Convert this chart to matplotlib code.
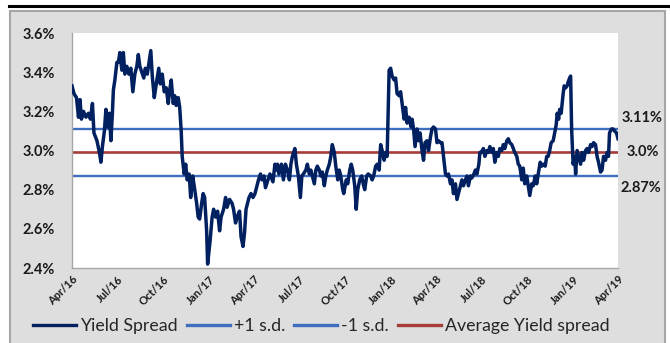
import numpy as np
import pandas as pd
import matplotlib
matplotlib.use("Agg")
from matplotlib import pyplot as plt
import matplotlib.dates as mdates
from matplotlib.patches import Rectangle
from matplotlib.lines import Line2D

plt.rcParams['font.family'] = ['Lato', 'DejaVu Sans']

# data: days since 1 Apr 2016, spread in %
start = pd.Timestamp('2016-04-01')
spread_days = [
    0, 4, 9, 13, 16, 19, 23, 28, 33, 37, 41, 44, 50, 55, 58, 61, 65, 68, 72, 75,
    78, 81, 83, 86, 90, 93, 96, 100, 103, 106, 110, 114, 118, 122, 126, 130, 133,
    136, 140, 144, 147, 151, 155, 158, 161, 165, 169, 174, 177, 181, 185, 189, 193,
    196, 199, 203, 206, 209, 213, 216, 219, 221, 225, 228, 231, 235, 238, 242, 245,
    250, 253, 256, 260, 263, 266, 270, 272,
    277, 281, 284, 288, 292, 296, 299, 304, 308, 311, 316, 321, 324, 328, 331, 336,
    339, 343, 346, 349, 355, 359, 363, 367, 371, 374, 378, 381, 385, 388, 393, 397,
    403, 407,
    409, 412, 415, 420, 424, 428, 432, 436, 439, 442, 447, 450, 454, 458, 461, 464,
    469, 472, 476, 479, 482, 486, 489, 492, 496, 499, 502, 506, 509, 512, 516, 519,
    522, 526, 529, 533, 536, 539, 543,
    545, 550, 553, 557, 560, 563, 567, 570, 573, 577, 581, 584, 587, 591, 594, 599,
    602, 605, 609, 612, 616, 619, 622, 626, 629, 632, 636, 639, 642, 646, 649, 652,
    656, 659, 662, 666, 669, 672, 676, 680,
    682, 685, 688, 692, 695, 698, 702, 705, 708, 712, 715, 719, 722, 725, 729, 732,
    735, 739, 742, 745, 749, 752, 755, 759, 762, 765, 769, 772, 775, 779, 782, 785,
    789, 792, 795, 799, 802, 806, 809, 812, 816, 818,
    821, 825, 828, 832, 835, 838, 842, 845, 848, 852, 855, 858, 862, 865, 868, 872,
    875, 878, 882, 885, 888, 892, 895, 898, 902, 905, 908, 912, 915, 918, 922, 925,
    929, 932, 935, 939, 942, 945, 949, 952,
    955, 958, 961, 965, 968, 971, 973, 976, 978, 981, 985, 987, 990, 993, 995, 998,
    1000, 1002, 1005, 1008, 1010, 1013, 1016, 1020, 1023, 1026, 1030, 1033, 1036,
    1040, 1043, 1046, 1050, 1053, 1056, 1060, 1063, 1066, 1070, 1073, 1076, 1078,
    1082, 1085, 1088, 1092, 1095,
]
spread_pct = [
    3.33, 3.29, 3.27, 3.17, 3.26, 3.16, 3.20, 3.17, 3.19, 3.16, 3.24, 3.09, 3.05, 2.99, 2.94, 3.02, 3.10, 3.21, 3.12, 3.19,
    3.05, 3.19, 3.31, 3.36, 3.45, 3.45, 3.50, 3.41, 3.50, 3.39, 3.43, 3.39, 3.42, 3.30, 3.39, 3.43, 3.49,
    3.43, 3.40, 3.37, 3.42, 3.39, 3.46, 3.51, 3.38, 3.27, 3.34, 3.42, 3.34, 3.39, 3.30, 3.32, 3.24,
    3.31, 3.36, 3.24, 3.28, 3.23, 3.27, 3.22, 3.10, 2.97, 2.88, 2.93, 2.85, 2.88, 2.76, 2.87, 2.82,
    2.73, 2.66, 2.65, 2.73, 2.78, 2.76, 2.59, 2.42,
    2.54, 2.66, 2.70, 2.66, 2.69, 2.59, 2.66, 2.70, 2.76, 2.71, 2.75, 2.73, 2.70, 2.63, 2.66, 2.69,
    2.56, 2.51, 2.58, 2.70, 2.76, 2.78, 2.76, 2.78, 2.82, 2.85, 2.88, 2.85, 2.87, 2.81, 2.85, 2.88,
    2.84, 2.93,
    2.90, 2.93, 2.88, 2.93, 2.85, 2.93, 2.90, 2.85, 2.93, 2.97, 3.01, 2.93, 2.87, 2.76, 2.87, 2.88,
    2.90, 2.93, 2.88, 2.90, 2.87, 2.83, 2.90, 2.92, 2.90, 2.87, 2.89, 2.82, 2.87, 2.90, 2.93, 2.97,
    3.03, 2.99, 2.92, 2.85, 2.90, 2.87, 2.80,
    2.78, 2.85, 2.83, 2.90, 2.93, 2.90, 2.82, 2.70, 2.80, 2.85, 2.87, 2.83, 2.80, 2.87, 2.88, 2.87,
    2.85, 2.87, 2.92, 2.93, 2.90, 3.03, 3.00, 2.95, 2.99, 2.97, 3.41, 3.42, 3.38, 3.36, 3.37, 3.29,
    3.28, 3.30, 3.24, 3.16, 3.22, 3.14, 3.17, 3.12,
    3.16, 3.11, 3.02, 3.11, 3.05, 3.09, 3.00, 2.95, 3.04, 3.05, 3.00, 3.07, 3.11, 3.12, 3.11, 3.04,
    3.05, 3.04, 3.04, 2.97, 2.88, 2.87, 2.88, 2.83, 2.85, 2.78, 2.83, 2.75, 2.78, 2.82, 2.85, 2.82,
    2.85, 2.87, 2.82, 2.87, 2.86, 2.88, 2.90, 2.88, 2.93, 2.99,
    2.99, 3.01, 2.97, 3.00, 2.99, 3.02, 2.99, 3.01, 2.94, 2.99, 2.97, 3.01, 3.00, 3.03, 3.01, 3.05,
    3.06, 3.04, 3.03, 3.01, 2.99, 2.97, 2.93, 2.92, 2.85, 2.91, 2.83, 2.87, 2.82, 2.77, 2.83, 2.82,
    2.87, 2.83, 2.88, 2.94, 2.92, 2.93, 2.92, 2.97,
    2.97, 3.00, 3.04, 3.05, 3.09, 3.13, 3.19, 3.16, 3.21, 3.19, 3.29, 3.33, 3.32, 3.33, 3.35, 3.37,
    3.38, 3.11, 2.93, 2.97, 2.88, 3.00, 2.97, 2.93, 2.99, 2.95, 3.00, 3.01, 2.99, 3.03,
    3.02, 3.04, 3.03, 2.97, 2.94, 2.89, 2.90, 2.97, 2.95, 2.99, 2.97, 3.09,
    3.11, 3.11, 3.10, 3.09, 3.06,
]
avg_spread = 2.99
plus_sd = 3.11
minus_sd = 2.87
side_labels = ['3.11%', '3.0%', '2.87%']
legend_labels = ['Yield Spread', '+1 s.d.', '-1 s.d.', 'Average Yield spread']

dates = start + pd.to_timedelta(spread_days, unit='D')
end = pd.Timestamp('2019-04-01')

fig = plt.figure(figsize=(6.7, 3.43), dpi=100, facecolor='white')

# grey chart panel and black rule on top
fig.add_artist(Rectangle((10 / 670, -0.05), 655 / 670, 1.05 - 11 / 343,
                         transform=fig.transFigure, facecolor='#DEDEDE',
                         edgecolor='#A6A6A6', lw=1.5, zorder=0))
fig.add_artist(Line2D([9 / 670, 1.0], [1 - 6 / 343, 1 - 6 / 343],
                      transform=fig.transFigure, color='black', lw=2.2))

ax = fig.add_axes([72 / 670, 1 - 268 / 343, 546 / 670, 235 / 343])
ax.set_facecolor('white')

navy = '#002060'
blue = '#3F6EBF'
red = '#A63D3A'

ax.plot(dates, spread_pct, color=navy, lw=2.5, zorder=3, solid_joinstyle='round')
ax.axhline(plus_sd, color=blue, lw=1.7, zorder=2)
ax.axhline(minus_sd, color=blue, lw=1.7, zorder=2)
ax.axhline(avg_spread, color=red, lw=1.9, zorder=2)

ax.set_xlim(start, end)
ax.set_ylim(2.4, 3.6)
ax.set_yticks(np.arange(2.4, 3.61, 0.2))
ax.yaxis.set_major_formatter(plt.FuncFormatter(lambda v, p: '%.1f%%' % v))
ax.xaxis.set_major_locator(mdates.MonthLocator(bymonth=[1, 4, 7, 10]))
ax.xaxis.set_major_formatter(mdates.DateFormatter('%b/%y'))

for s in ['top', 'right']:
    ax.spines[s].set_visible(False)
for s in ['left', 'bottom']:
    ax.spines[s].set_color('#A6A6A6')
    ax.spines[s].set_linewidth(1.0)

ax.tick_params(axis='both', length=0)
ax.tick_params(axis='y', pad=12, labelsize=10.5, labelcolor='#1A1A1A')
ax.tick_params(axis='x', pad=4, labelsize=8, labelcolor='#1A1A1A')
for lab in ax.get_yticklabels():
    lab.set_fontweight('bold')
for lab in ax.get_xticklabels():
    lab.set_fontweight('bold')
    lab.set_rotation(45)
    lab.set_ha('right')
    lab.set_rotation_mode('anchor')

# labels at right of the horizontal lines
side_y = [3.165, 2.99, 2.81]
side_x = [1.006, 1.015, 1.005]
for lab, yv, xv in zip(side_labels, side_y, side_x):
    ax.text(xv, yv, lab, transform=ax.get_yaxis_transform(), ha='left',
            va='center', fontsize=10.5, fontweight='bold', color='#1A1A1A',
            clip_on=False)

handles = [Line2D([], [], color=navy, lw=2.4),
           Line2D([], [], color=blue, lw=2.4),
           Line2D([], [], color=blue, lw=2.4),
           Line2D([], [], color=red, lw=2.4)]
leg = fig.legend(handles, legend_labels, loc='center', bbox_to_anchor=(0.48, 0.05),
                 ncol=4, frameon=False, fontsize=12.8, handlelength=2.4,
                 handletextpad=0.25, columnspacing=0.5, borderaxespad=0)
for t in leg.get_texts():
    t.set_color('#262626')

fig.savefig('out.png', dpi=100, facecolor='white')
